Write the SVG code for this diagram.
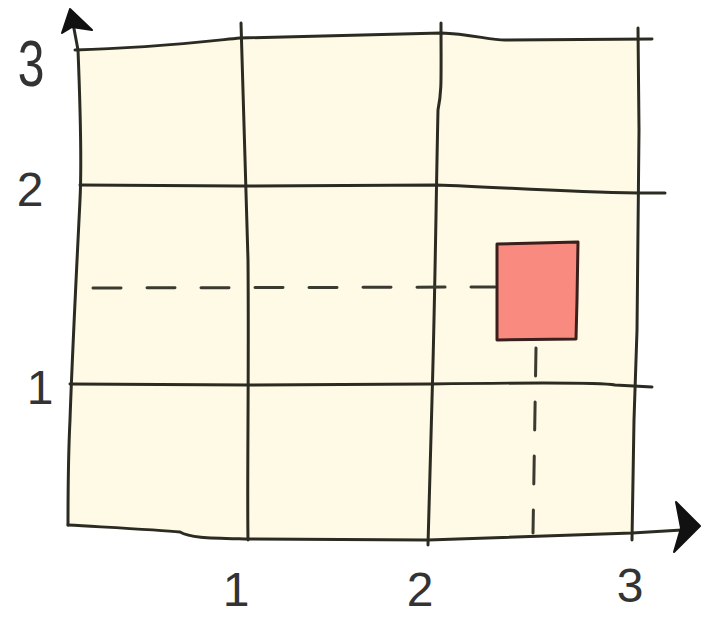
<svg xmlns="http://www.w3.org/2000/svg" width="701" height="619" viewBox="0 0 701 619">
  <style>
    .ln { fill: none; stroke: #2b2b22; stroke-width: 3; stroke-linecap: round; stroke-linejoin: round; }
    .dash { fill: none; stroke: #3a3a30; stroke-width: 3; stroke-dasharray: 28 26; stroke-linecap: round; }
    .lbl { font-family: "Liberation Sans", "DejaVu Sans", sans-serif; font-size: 48px; fill: #333333; text-anchor: middle; }
    .head { fill: #111111; stroke: #111111; stroke-width: 2; stroke-linejoin: round; }
  </style>
  <rect width="701" height="619" fill="#ffffff"/>
  <g id="background">
    <path d="M78,50 C 150,48 200,42 240,38 L 441,33 C 470,34 490,40 505,40 L 638,40 L 632,533 L 428,540 L 248,539 C 210,538 190,538 180,532 C 160,530 120,528 68,525 C 68,500 68,460 70,420 C 72,360 76,280 80,200 C 82,160 80,100 78,50 Z" fill="#fffae6"/>
  </g>
  <g id="grid">
    <path class="ln" d="M75,50 C 150,48 200,42 240,38 L 441,33 C 470,34 490,40 505,40 L 652,39"/>
    <path class="ln" d="M80,185 L 240,186 L 436,185 C 500,187 560,192 638,193 L 665,193"/>
    <path class="ln" d="M70,384 L 250,385 L 430,384 C 500,383 600,382 615,385 L 652,387"/>
    <path class="ln" d="M241,23 C 244,100 246,180 248,260 C 249,380 247,480 248,540"/>
    <path class="ln" d="M441,23 C 441,80 442,90 438,110 C 436,200 435,300 432,400 L 428,545"/>
    <path class="ln" d="M638,28 L 639,130 L 637,330 L 634,420 L 632,540"/>
  </g>
  <g id="axes">
    <path class="ln" d="M72,18 L 78,50 C 80,100 82,160 80,200 C 76,280 72,360 70,420 C 68,460 68,500 68,525"/>
    <path class="ln" d="M68,525 C 120,528 160,530 180,532 C 190,538 210,538 248,539 L 428,540 L 632,533 L 682,530"/>
    <polygon class="head" points="70,9 62,33 72,27 92,30"/>
    <polygon class="head" points="700,526 676,502 681,528 674,552"/>
  </g>
  <g id="guides">
    <path class="dash" d="M93,288 L 495,287"/>
    <path class="dash" d="M536,348 L 533,533"/>
  </g>
  <g id="point">
    <path d="M497,244 L 578,242 L 577,300 L 576,339 L 497,340 Z" fill="#f98a80" stroke="#3a1f1c" stroke-width="3" stroke-linejoin="round"/>
  </g>
  <g id="labels">
    <text class="lbl" x="31" y="86" transform="translate(31,86) scale(1,1.35) translate(-31,-86)">3</text>
    <text class="lbl" x="30" y="206">2</text>
    <text class="lbl" x="40" y="404">1</text>
    <text class="lbl" x="236" y="606">1</text>
    <text class="lbl" x="420" y="606">2</text>
    <text class="lbl" x="630" y="602">3</text>
  </g>
</svg>
